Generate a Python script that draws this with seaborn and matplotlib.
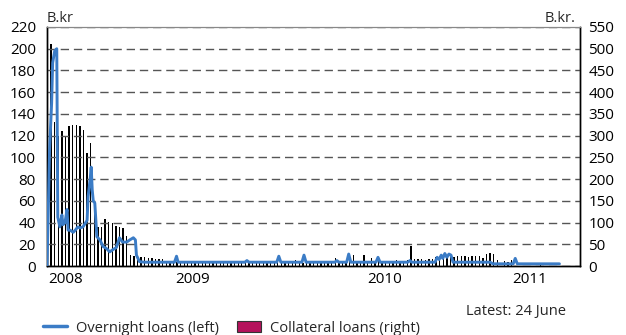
import numpy as np
import pandas as pd
import matplotlib
matplotlib.use("Agg")
import matplotlib.pyplot as plt
import matplotlib.dates as mdates
import matplotlib.ticker as mticker
from matplotlib.lines import Line2D
from matplotlib.patches import Patch
import seaborn as sns

# ---------------- data ----------------
# Overnight loans (left axis, B.kr)
overnight_dates = [
    "2008-09-30", "2008-10-02", "2008-10-05", "2008-10-09", "2008-10-11", "2008-10-15",
    "2008-10-19", "2008-10-21", "2008-10-25", "2008-10-29", "2008-10-31", "2008-11-04",
    "2008-11-08", "2008-11-10", "2008-11-14", "2008-11-20", "2008-11-24", "2008-11-29",
    "2008-12-03", "2008-12-09", "2008-12-17", "2008-12-19", "2008-12-23", "2008-12-25",
    "2008-12-27", "2008-12-29", "2009-01-01", "2009-01-05", "2009-01-11", "2009-01-17",
    "2009-01-24", "2009-01-30", "2009-02-05", "2009-02-12", "2009-02-18", "2009-02-24",
    "2009-03-04", "2009-03-10", "2009-03-17", "2009-03-21", "2009-03-23", "2009-03-29",
    "2009-04-08", "2009-06-05", "2009-06-09", "2009-06-12", "2009-10-20", "2009-10-24",
    "2009-10-28", "2009-12-21", "2009-12-25", "2009-12-29", "2010-02-08", "2010-02-12",
    "2010-02-16", "2010-04-13", "2010-04-17", "2010-04-21", "2010-05-06", "2010-05-10",
    "2010-05-14", "2010-07-02", "2010-07-06", "2010-07-10", "2010-09-02", "2010-09-06",
    "2010-09-10", "2010-10-25", "2010-10-29", "2010-11-02", "2010-11-06", "2010-11-09",
    "2010-11-13", "2010-11-17", "2010-11-21", "2010-11-25", "2010-11-29", "2011-02-09",
    "2011-02-15", "2011-03-26", "2011-03-30", "2011-04-03", "2011-06-24",
]
overnight_values = [
    0, 40, 107, 150, 187, 198,
    200, 45, 36, 47, 38, 40,
    52, 33, 33, 31, 33, 36,
    35, 36, 42, 64, 80, 91,
    70, 60, 58, 27, 24, 18,
    16, 13, 15, 17, 26, 22,
    22, 24, 26, 24, 10, 4,
    3.5, 3.5, 9, 3.5, 3.5, 5,
    3.5, 3.5, 9, 3.5, 3.5, 10,
    3.5, 3.5, 5, 3.5, 3.5, 11,
    3.5, 3.5, 8, 3.5, 3.5, 5,
    3.5, 3.5, 8, 6, 10, 7,
    11.5, 8, 11, 10, 3.5, 3.5,
    2, 2, 7, 2, 2,
]

# Collateral loans (right axis, B.kr.), weekly
collateral_start = "2008-10-01"
collateral_values = [
    522, 510, 332, 300, 310, 298, 322, 325, 325, 322, 312, 260, 282,
    142, 90, 90, 108, 102, 98, 92, 90, 88, 68, 25, 22, 22,
    20, 20, 18, 18, 16, 16, 15, 12, 12, 12, 10,
    9, 8, 9, 9, 8, 9, 8, 9, 9, 8, 9, 9, 8, 9, 9, 8, 9, 9, 9, 8, 9, 9, 8, 9, 9, 9, 8, 9, 10,
    10, 12, 8, 14, 10, 8, 14, 10, 10, 12, 10, 12, 10, 12, 19, 10, 12, 10, 14, 25,
    12, 12, 25, 12, 19, 12, 14, 12, 12, 12, 12, 14, 12, 12, 14, 47,
    15, 15, 15, 14, 15, 15, 20, 22, 25, 25, 25, 20, 22, 22, 24, 20,
    22, 22, 24, 18, 28, 30, 28, 14, 0, 12, 10, 14,
    0, 0, 0, 0, 0, 0, 0, 8, 0, 0, 0, 0, 0,
]

year_labels = ["2008", "2009", "2010", "2011"]
year_label_dates = ["2008-11-05", "2009-07-10", "2010-07-19", "2011-04-28"]
year_boundaries = ["2009-01-01", "2010-01-01", "2011-01-01"]

left_ticks = list(range(0, 221, 20))
right_ticks = list(range(0, 551, 50))

# ---------------- style ----------------
sns.set_theme(style="white")
plt.rcParams["font.family"] = ["Open Sans", "DejaVu Sans"]

blue = "#3b7cc6"
crimson = "#b5125c"

df_line = pd.DataFrame({"date": pd.to_datetime(overnight_dates), "value": overnight_values})
bar_dates = pd.date_range(collateral_start, periods=len(collateral_values), freq="7D")
df_bar = pd.DataFrame({"date": bar_dates, "value": collateral_values})

W, H = 626, 335
fig = plt.figure(figsize=(W / 100, H / 100), dpi=100)
ax = fig.add_axes([47 / W, 1 - 266 / H, (580 - 47) / W, (266 - 27) / H])
ax2 = ax.twinx()

# bars on the right axis (drawn below)
ax2.bar(df_bar["date"], df_bar["value"], width=2.6, color="black",
        edgecolor="none", linewidth=0, zorder=2)
ax2.set_ylim(0, 550)
ax2.set_yticks(right_ticks)
ax2.tick_params(axis="y", length=0, pad=6, labelsize=11, colors="black")

# line on the left axis (drawn above)
ax.set_zorder(ax2.get_zorder() + 1)
ax.patch.set_visible(False)
sns.lineplot(data=df_line, x="date", y="value", ax=ax, color=blue, linewidth=2.1,
             legend=False, zorder=5)
ax.set_ylim(0, 220)
ax.set_yticks(left_ticks)
ax.tick_params(axis="y", length=0, pad=8, labelsize=11, colors="black")
ax.set_xlabel("")
ax.set_ylabel("")
ax2.set_ylabel("")

ax.yaxis.grid(True, linestyle=(0, (6, 3.5)), color="#555555", linewidth=1.0)
ax.xaxis.grid(False)
ax2.grid(False)

ax.set_xlim(pd.Timestamp("2008-09-30"), pd.Timestamp("2011-08-03"))
ax.xaxis.set_major_locator(mticker.FixedLocator(mdates.date2num(pd.to_datetime(year_boundaries))))
ax.xaxis.set_major_formatter(mticker.NullFormatter())
ax.xaxis.set_minor_locator(mticker.FixedLocator(mdates.date2num(pd.to_datetime(year_label_dates))))
ax.xaxis.set_minor_formatter(mticker.FixedFormatter(year_labels))
ax.tick_params(axis="x", which="major", length=6, width=1, direction="out", color="black")
ax.tick_params(axis="x", which="minor", length=0, pad=4, labelsize=11, colors="black")

for a in (ax, ax2):
    for s in ("left", "right", "bottom"):
        a.spines[s].set_color("black")
        a.spines[s].set_linewidth(1.0)
    a.spines["top"].set_color("#888888")
    a.spines["top"].set_linewidth(0.8)

fig.text(47 / W, 1 - 18.5 / H, "B.kr", ha="left", va="center", fontsize=10.5)
fig.text(576 / W, 1 - 19 / H, "B.kr.", ha="right", va="center", fontsize=10.5)
fig.text(466 / W, 1 - 311 / H, "Latest: 24 June", ha="left", va="center", fontsize=10.5)

handles = [
    Line2D([0], [0], color=blue, linewidth=2.5),
    Patch(facecolor=crimson, edgecolor="#333333", linewidth=0.8),
]
fig.legend(handles, ["Overnight loans (left)", "Collateral loans (right)"],
           loc="center left", bbox_to_anchor=(43 / W, 1 - 328 / H), ncol=2,
           frameon=False, fontsize=10.5, handlelength=1.65, handletextpad=0.62,
           columnspacing=1.2, borderpad=0, borderaxespad=0)

fig.savefig("out.png", dpi=100)
